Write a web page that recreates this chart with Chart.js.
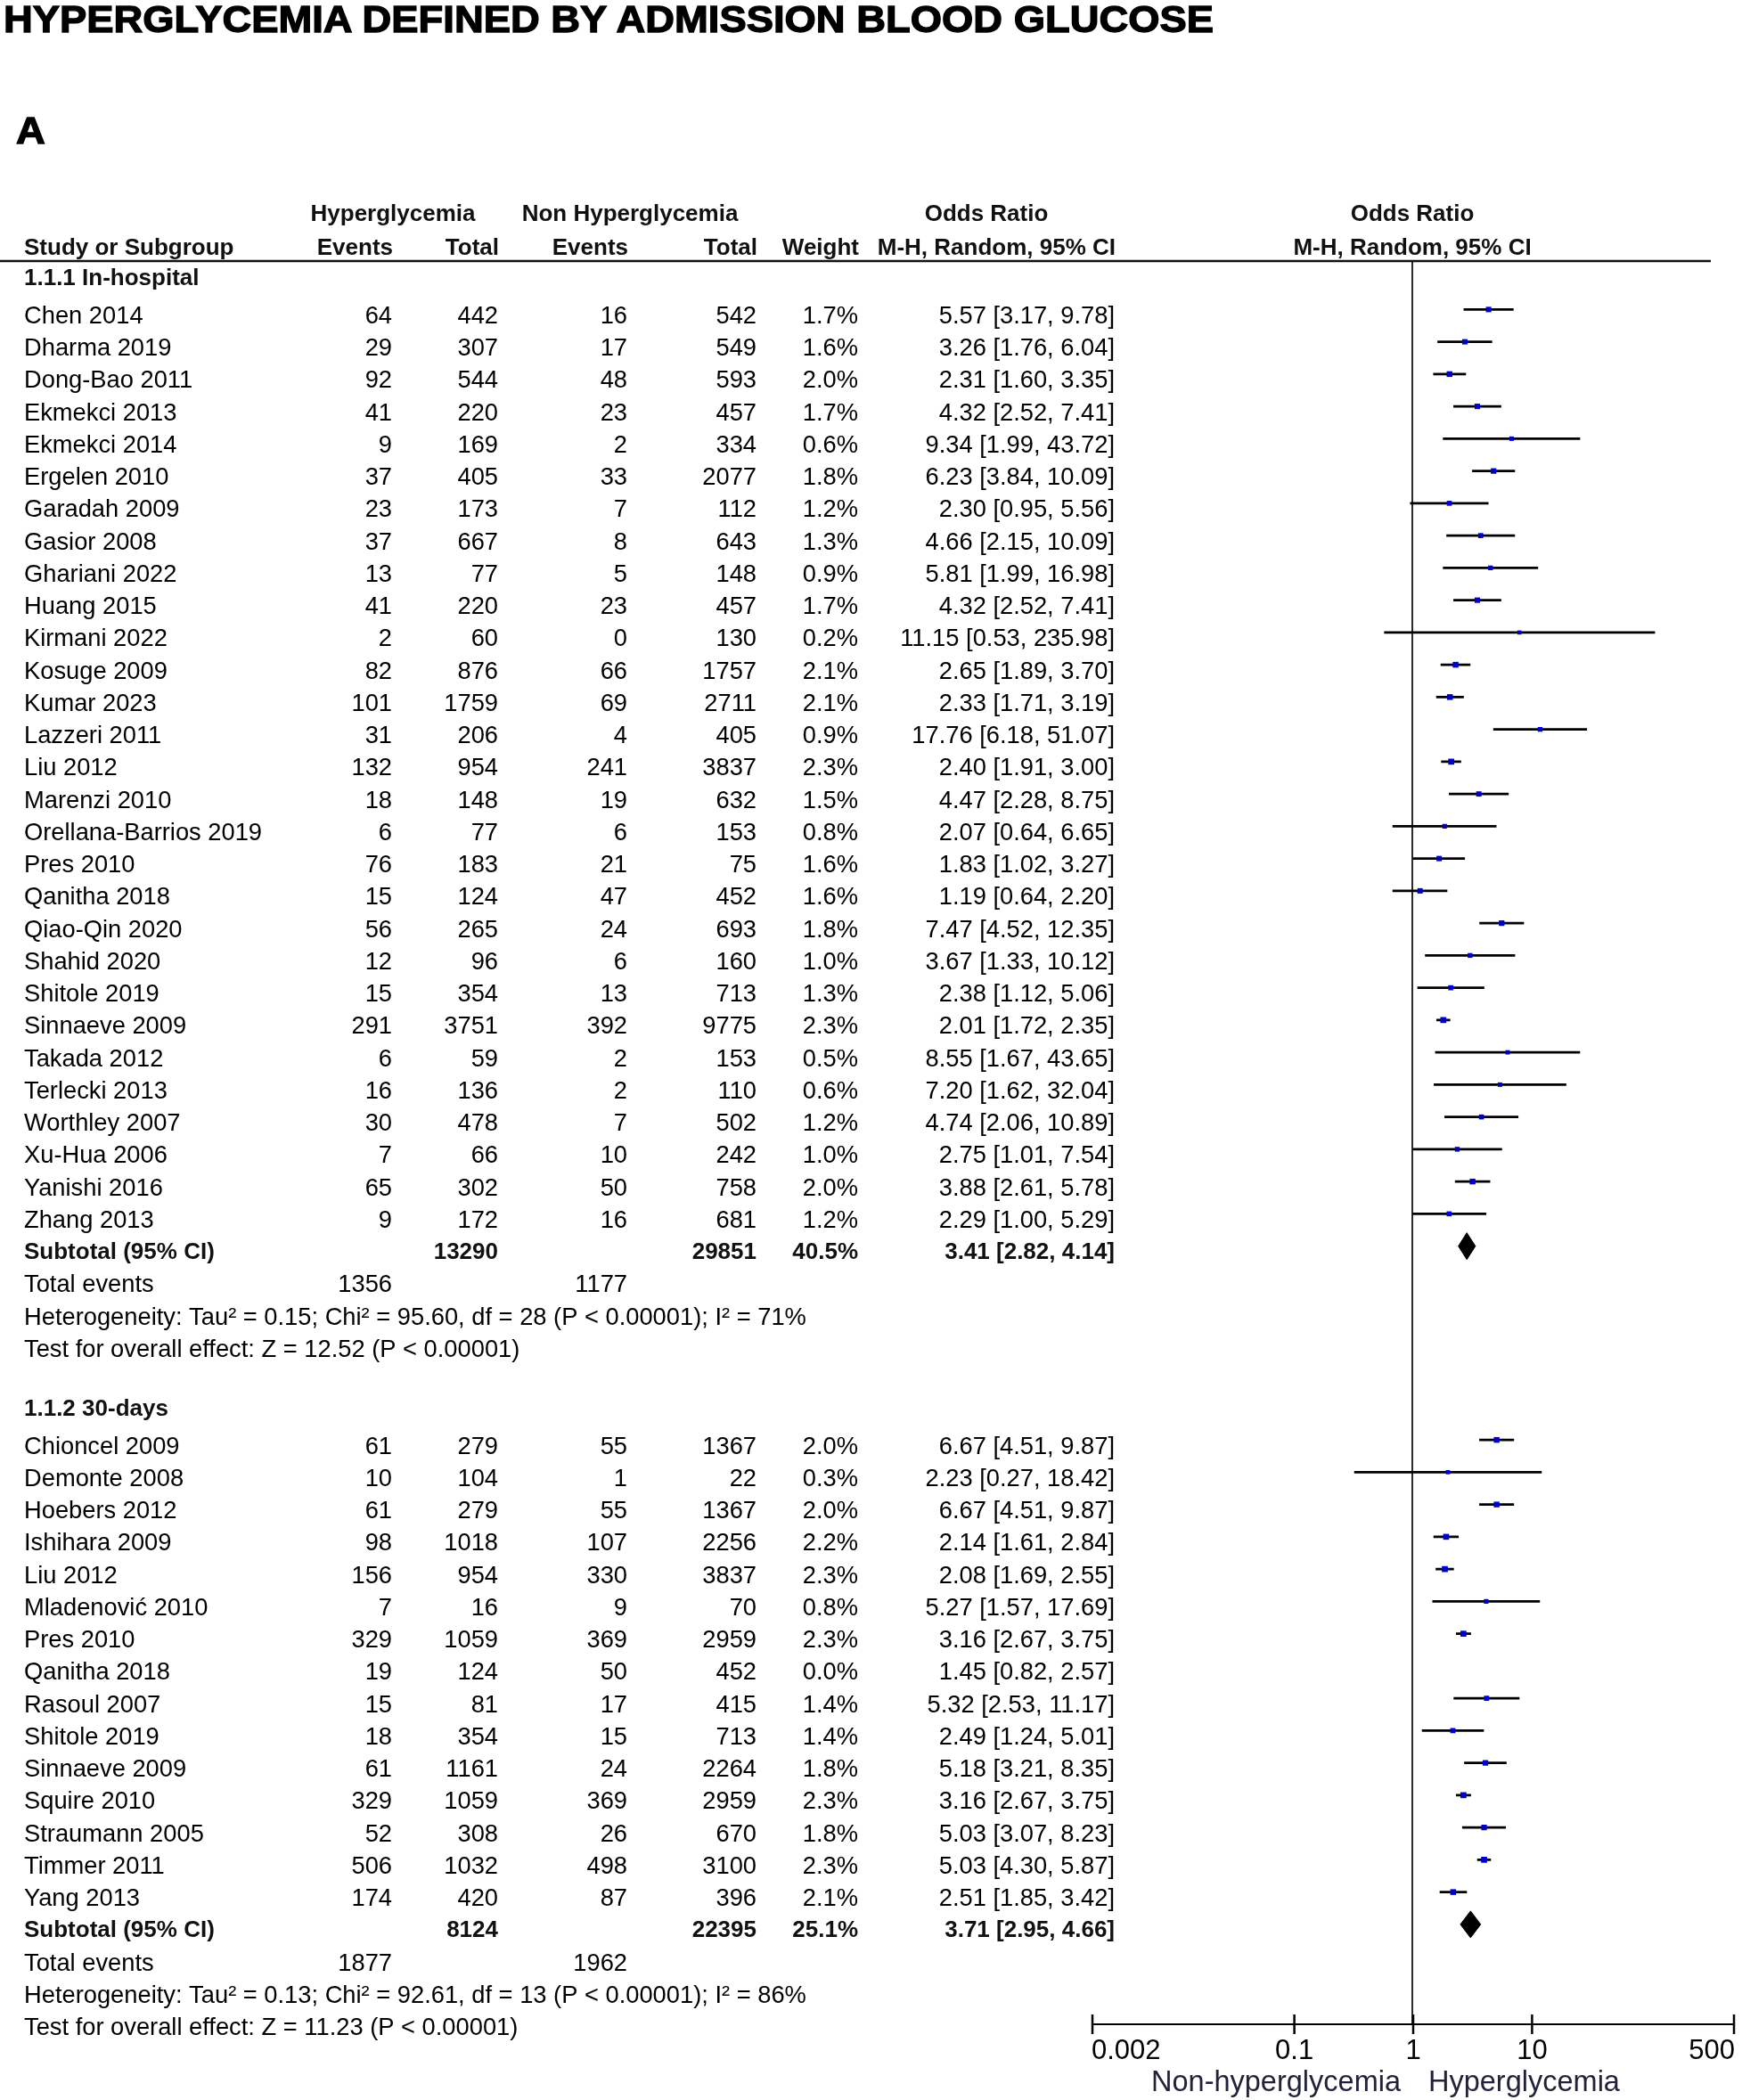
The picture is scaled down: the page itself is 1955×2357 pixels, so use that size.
<!DOCTYPE html>
<html>
<head>
<meta charset="utf-8">
<title>Hyperglycemia defined by admission blood glucose</title>
<script src="https://cdn.jsdelivr.net/npm/chart.js@4.4.1/dist/chart.umd.min.js"></script>
<style>
html, body { margin: 0; padding: 0; background: #fff; }
#wrap { position: relative; width: 1955px; height: 2357px; overflow: hidden; background: #fff; }
#c { position: absolute; left: 0; top: 0; }
.hd { position: absolute; font-family: "Liberation Sans Narrow", "Liberation Sans", Arial, sans-serif; font-weight: 700;
      font-size: 42px; line-height: 1; white-space: nowrap; color: #000; transform-origin: 0 0; display: inline-block;
      -webkit-text-stroke: 1.3px #000; }
</style>
</head>
<body>
<div id="wrap">
  <canvas id="c" width="1955" height="2357" style="width:1955px;height:2357px"></canvas>
  <div id="title" class="hd" style="left:4px;top:1px">HYPERGLYCEMIA DEFINED BY ADMISSION BLOOD GLUCOSE</div>
  <div id="panel" class="hd" style="left:18px;top:126px">A</div>
</div>
<script>
// ===================== DATA =====================
const groupTitles = ['1.1.1 In-hospital', '1.1.2 30-days'];

// --- 1.1.1 In-hospital ---
const studiesA = ['Chen 2014','Dharma 2019','Dong-Bao 2011','Ekmekci 2013','Ekmekci 2014','Ergelen 2010','Garadah 2009',
  'Gasior 2008','Ghariani 2022','Huang 2015','Kirmani 2022','Kosuge 2009','Kumar 2023','Lazzeri 2011','Liu 2012',
  'Marenzi 2010','Orellana-Barrios 2019','Pres 2010','Qanitha 2018','Qiao-Qin 2020','Shahid 2020','Shitole 2019',
  'Sinnaeve 2009','Takada 2012','Terlecki 2013','Worthley 2007','Xu-Hua 2006','Yanishi 2016','Zhang 2013'];
const hyperEventsA = [64,29,92,41,9,37,23,37,13,41,2,82,101,31,132,18,6,76,15,56,12,15,291,6,16,30,7,65,9];
const hyperTotalA  = [442,307,544,220,169,405,173,667,77,220,60,876,1759,206,954,148,77,183,124,265,96,354,3751,59,136,478,66,302,172];
const nonEventsA   = [16,17,48,23,2,33,7,8,5,23,0,66,69,4,241,19,6,21,47,24,6,13,392,2,2,7,10,50,16];
const nonTotalA    = [542,549,593,457,334,2077,112,643,148,457,130,1757,2711,405,3837,632,153,75,452,693,160,713,9775,153,110,502,242,758,681];
const weightA      = [1.7,1.6,2.0,1.7,0.6,1.8,1.2,1.3,0.9,1.7,0.2,2.1,2.1,0.9,2.3,1.5,0.8,1.6,1.6,1.8,1.0,1.3,2.3,0.5,0.6,1.2,1.0,2.0,1.2];
const oddsA        = [5.57,3.26,2.31,4.32,9.34,6.23,2.30,4.66,5.81,4.32,11.15,2.65,2.33,17.76,2.40,4.47,2.07,1.83,1.19,7.47,3.67,2.38,2.01,8.55,7.20,4.74,2.75,3.88,2.29];
const lowA         = [3.17,1.76,1.60,2.52,1.99,3.84,0.95,2.15,1.99,2.52,0.53,1.89,1.71,6.18,1.91,2.28,0.64,1.02,0.64,4.52,1.33,1.12,1.72,1.67,1.62,2.06,1.01,2.61,1.00];
const highA        = [9.78,6.04,3.35,7.41,43.72,10.09,5.56,10.09,16.98,7.41,235.98,3.70,3.19,51.07,3.00,8.75,6.65,3.27,2.20,12.35,10.12,5.06,2.35,43.65,32.04,10.89,7.54,5.78,5.29];

// --- 1.1.2 30-days ---
const studiesB = ['Chioncel 2009','Demonte 2008','Hoebers 2012','Ishihara 2009','Liu 2012','Mladenović 2010','Pres 2010',
  'Qanitha 2018','Rasoul 2007','Shitole 2019','Sinnaeve 2009','Squire 2010','Straumann 2005','Timmer 2011','Yang 2013'];
const hyperEventsB = [61,10,61,98,156,7,329,19,15,18,61,329,52,506,174];
const hyperTotalB  = [279,104,279,1018,954,16,1059,124,81,354,1161,1059,308,1032,420];
const nonEventsB   = [55,1,55,107,330,9,369,50,17,15,24,369,26,498,87];
const nonTotalB    = [1367,22,1367,2256,3837,70,2959,452,415,713,2264,2959,670,3100,396];
const weightB      = [2.0,0.3,2.0,2.2,2.3,0.8,2.3,0.0,1.4,1.4,1.8,2.3,1.8,2.3,2.1];
const oddsB        = [6.67,2.23,6.67,2.14,2.08,5.27,3.16,1.45,5.32,2.49,5.18,3.16,5.03,5.03,2.51];
const lowB         = [4.51,0.27,4.51,1.61,1.69,1.57,2.67,0.82,2.53,1.24,3.21,2.67,3.07,4.30,1.85];
const highB        = [9.87,18.42,9.87,2.84,2.55,17.69,3.75,2.57,11.17,5.01,8.35,3.75,8.23,5.87,3.42];

// --- subtotals (one entry per group) ---
const subtotalHyperTotal = [13290, 8124];
const subtotalNonTotal   = [29851, 22395];
const subtotalWeight     = [40.5, 25.1];
const subtotalOdds       = [3.41, 3.71];
const subtotalLow        = [2.82, 2.95];
const subtotalHigh       = [4.14, 4.66];
const totalEventsHyper   = [1356, 1877];
const totalEventsNon     = [1177, 1962];
const heterogeneityText  = ['Heterogeneity: Tau² = 0.15; Chi² = 95.60, df = 28 (P < 0.00001); I² = 71%',
                            'Heterogeneity: Tau² = 0.13; Chi² = 92.61, df = 13 (P < 0.00001); I² = 86%'];
const overallEffectText  = ['Test for overall effect: Z = 12.52 (P < 0.00001)',
                            'Test for overall effect: Z = 11.23 (P < 0.00001)'];

// --- headers / axis text ---
const headerTop    = ['Hyperglycemia', 'Non Hyperglycemia', 'Odds Ratio', 'Odds Ratio'];
const headerBottom = ['Study or Subgroup', 'Events', 'Total', 'Events', 'Total', 'Weight', 'M-H, Random, 95% CI', 'M-H, Random, 95% CI'];
const axisTickValues = [0.002, 0.1, 1, 10, 500];
const axisTickLabels = ['0.002', '0.1', '1', '10', '500'];
const favourLabels   = ['Non-hyperglycemia', 'Hyperglycemia'];

// ===================== LAYOUT / STYLE =====================
const PLOT_TOP = 293, PLOT_BOTTOM = 2272, PLOT_LEFT = 1226, PLOT_RIGHT = 1946;
const ROW_PX = 36.25;
const Y_MAX = (PLOT_BOTTOM - PLOT_TOP) / ROW_PX;
// the marks in the reference are plotted on a slightly compressed log scale relative to the printed axis
const DATA_X_MIN = 0.000746, DATA_X_MAX = 1395;
const COL = { name: 27, ev1: 440, tot1: 559, ev2: 704, tot2: 849, wt: 963, or: 1251 };
const TOP_CENTERS = [441, 707, 1107];
const BASE = 15.5;
const FONT = '"Liberation Sans", Arial, sans-serif';
const SQUARE_BLUE = '#0000c8';
const DIAMOND_HALF = 15 / ROW_PX;

const groups = [
  { names: studiesA, he: hyperEventsA, ht: hyperTotalA, ne: nonEventsA, nt: nonTotalA, w: weightA, or: oddsA, lo: lowA, hi: highA },
  { names: studiesB, he: hyperEventsB, ht: hyperTotalB, ne: nonEventsB, nt: nonTotalB, w: weightB, or: oddsB, lo: lowB, hi: highB }
];

// row positions (in row units) built from the order of rows
const rowsLayout = [];
let cursor = 1.5;
groups.forEach((g) => {
  const r = { head: cursor - 1.18, studies: g.names.map((_, i) => cursor + i) };
  const last = cursor + g.names.length - 1;
  r.subtotal = last + 1; r.total = last + 2; r.het = last + 3; r.test = last + 4;
  cursor = r.test + 3;
  rowsLayout.push(r);
});

// ===================== DATASETS =====================
const ciData = [], squareData = [], squareRadius = [];
groups.forEach((g, gi) => {
  g.names.forEach((_, i) => {
    if (g.w[i] <= 0) return;               // zero-weight studies are not plotted
    const y = rowsLayout[gi].studies[i];
    ciData.push({ x: g.lo[i], y }, { x: g.hi[i], y }, { x: null, y: null });
    squareData.push({ x: g.or[i], y });
    squareRadius.push((4.4 + 1.0 * g.w[i]) / 1.414);
  });
});

const diamondSets = subtotalOdds.map((est, gi) => {
  const y = rowsLayout[gi].subtotal;
  return {
    type: 'scatter', showLine: true, fill: 'shape',
    data: [ { x: subtotalLow[gi], y }, { x: est, y: y - DIAMOND_HALF }, { x: subtotalHigh[gi], y },
            { x: est, y: y + DIAMOND_HALF }, { x: subtotalLow[gi], y } ],
    borderColor: '#000', backgroundColor: '#000', borderWidth: 1, pointRadius: 0, xAxisID: 'x', yAxisID: 'y'
  };
});

const datasets = [
  { label: 'Study estimates', data: squareData, pointStyle: 'rect', pointRadius: squareRadius,
    backgroundColor: SQUARE_BLUE, borderWidth: 0, pointBorderWidth: 0, showLine: false, xAxisID: 'x', yAxisID: 'y' },
  ...diamondSets,
  { label: '95% CI', data: ciData, showLine: true, spanGaps: false, borderColor: '#000', borderWidth: 2.6,
    pointRadius: 0, fill: false, xAxisID: 'x', yAxisID: 'y' },
  { label: 'No effect', data: [{ x: 1, y: 0 }, { x: 1, y: Y_MAX }], showLine: true, borderColor: '#2a2a2a',
    borderWidth: 2, pointRadius: 0, fill: false, xAxisID: 'x', yAxisID: 'y' }
];

// ===================== TEXT / AXIS PLUGIN =====================
function fmtW(v) { return v.toFixed(1) + '%'; }
function fmtOR(e, l, h) { return e.toFixed(2) + ' [' + l.toFixed(2) + ', ' + h.toFixed(2) + ']'; }

const forestPlugin = {
  id: 'forestTable',
  afterDraw(chart) {
    const ctx = chart.ctx;
    const ys = chart.scales.y, xs = chart.scales.x, ax = chart.scales.xAxis;
    const area = chart.chartArea;
    const txt = (s, x, y, align, font, color) => {
      ctx.font = font; ctx.textAlign = align; ctx.textBaseline = 'alphabetic';
      ctx.fillStyle = color || '#000'; ctx.fillText(s, x, y);
    };
    const REG = '27.3px ' + FONT, BOLD = 'bold 26px ' + FONT;
    ctx.save();

    // headers
    const plotCenter = xs.getPixelForValue(1);
    const topCenters = TOP_CENTERS.concat([plotCenter]);
    headerTop.forEach((s, i) => txt(s, topCenters[i], 248, 'center', BOLD, '#111'));
    txt(headerBottom[0], COL.name, 285.5, 'left', BOLD, '#111');
    const hbRight = [COL.ev1, COL.tot1, COL.ev2, COL.tot2, COL.wt, COL.or];
    for (let i = 1; i <= 6; i++) txt(headerBottom[i], hbRight[i - 1] + 1, 285.5, 'right', BOLD, '#111');
    txt(headerBottom[7], plotCenter, 285.5, 'center', BOLD, '#111');

    // header rule
    ctx.strokeStyle = '#111'; ctx.lineWidth = 2.5;
    ctx.beginPath(); ctx.moveTo(0, area.top); ctx.lineTo(1920, area.top); ctx.stroke();

    // table body
    groups.forEach((g, gi) => {
      const L = rowsLayout[gi];
      const py = (r) => ys.getPixelForValue(r) + BASE;
      txt(groupTitles[gi], COL.name, py(L.head), 'left', BOLD, '#111');
      g.names.forEach((n, i) => {
        const y = py(L.studies[i]);
        txt(n, COL.name, y, 'left', REG);
        txt(String(g.he[i]), COL.ev1, y, 'right', REG);
        txt(String(g.ht[i]), COL.tot1, y, 'right', REG);
        txt(String(g.ne[i]), COL.ev2, y, 'right', REG);
        txt(String(g.nt[i]), COL.tot2, y, 'right', REG);
        txt(fmtW(g.w[i]), COL.wt, y, 'right', REG);
        txt(fmtOR(g.or[i], g.lo[i], g.hi[i]), COL.or, y, 'right', REG);
      });
      const ysub = py(L.subtotal) - 1.5;
      txt('Subtotal (95% CI)', COL.name, ysub, 'left', BOLD, '#111');
      txt(String(subtotalHyperTotal[gi]), COL.tot1, ysub, 'right', BOLD, '#111');
      txt(String(subtotalNonTotal[gi]), COL.tot2, ysub, 'right', BOLD, '#111');
      txt(fmtW(subtotalWeight[gi]), COL.wt, ysub, 'right', BOLD, '#111');
      txt(fmtOR(subtotalOdds[gi], subtotalLow[gi], subtotalHigh[gi]), COL.or, ysub, 'right', BOLD, '#111');
      const yt = py(L.total);
      txt('Total events', COL.name, yt, 'left', REG);
      txt(String(totalEventsHyper[gi]), COL.ev1, yt, 'right', REG);
      txt(String(totalEventsNon[gi]), COL.ev2, yt, 'right', REG);
      txt(heterogeneityText[gi], COL.name, py(L.het), 'left', REG);
      txt(overallEffectText[gi], COL.name, py(L.test), 'left', REG);
    });

    // x axis (printed scale)
    const yb = area.bottom;
    const p0 = ax.getPixelForValue(axisTickValues[0]);
    const p1 = ax.getPixelForValue(axisTickValues[axisTickValues.length - 1]);
    ctx.strokeStyle = '#000'; ctx.lineWidth = 2;
    ctx.beginPath(); ctx.moveTo(p0, yb); ctx.lineTo(p1, yb); ctx.stroke();
    ctx.lineWidth = 2.5;
    axisTickValues.forEach((v, i) => {
      const px = ax.getPixelForValue(v);
      ctx.beginPath(); ctx.moveTo(px, yb - 11); ctx.lineTo(px, yb + 11); ctx.stroke();
      const align = i === 0 ? 'left' : (i === axisTickValues.length - 1 ? 'right' : 'center');
      const dx = i === 0 ? -1 : (i === axisTickValues.length - 1 ? 1 : 0);
      txt(axisTickLabels[i], px + dx, yb + 39, align, '31px ' + FONT, '#000');
    });
    const pOne = ax.getPixelForValue(1);
    txt(favourLabels[0], pOne - 14, yb + 75, 'right', '32.5px ' + FONT, '#22223a');
    txt(favourLabels[1], pOne + 17, yb + 75, 'left', '32.5px ' + FONT, '#22223a');

    ctx.restore();
  }
};

// ===================== CHART =====================
new Chart(document.getElementById('c'), {
  type: 'scatter',
  data: { datasets },
  options: {
    responsive: false,
    animation: false,
    devicePixelRatio: 1,
    events: [],
    layout: { padding: { left: PLOT_LEFT, right: 1955 - PLOT_RIGHT, top: PLOT_TOP, bottom: 2357 - PLOT_BOTTOM } },
    plugins: { legend: { display: false }, tooltip: { enabled: false }, title: { display: false } },
    scales: {
      x: { type: 'logarithmic', min: DATA_X_MIN, max: DATA_X_MAX, display: false },
      xAxis: { type: 'logarithmic', axis: 'x', position: 'bottom', min: axisTickValues[0],
               max: axisTickValues[axisTickValues.length - 1], display: false },
      y: { type: 'linear', min: 0, max: Y_MAX, reverse: true, display: false }
    }
  },
  plugins: [forestPlugin]
});

// ===================== TITLE FIT =====================
function fitTitle() {
  const t = document.getElementById('title'), a = document.getElementById('panel');
  t.style.transform = 'none'; a.style.transform = 'none';
  const s = 1358 / t.getBoundingClientRect().width;
  t.style.transform = 'scaleX(' + s + ')';
  a.style.transform = 'scaleX(' + s + ')';
}
fitTitle();
if (document.fonts && document.fonts.ready) document.fonts.ready.then(fitTitle);
</script>
</body>
</html>
